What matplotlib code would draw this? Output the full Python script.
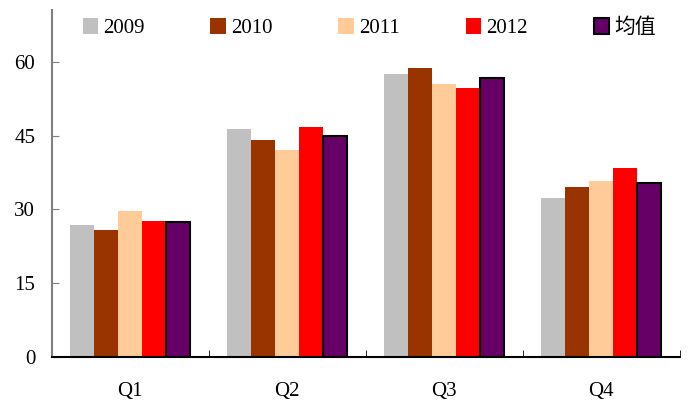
import numpy as np
import matplotlib.pyplot as plt

quarters = ['Q1', 'Q2', 'Q3', 'Q4']
years = ['2009', '2010', '2011', '2012', '均值']
v2009 = [26.8, 46.4, 57.6, 32.3]
v2010 = [25.8, 44.1, 58.8, 34.6]
v2011 = [29.7, 42.1, 55.5, 35.8]
v2012 = [27.7, 46.8, 54.7, 38.4]
vmean = [27.5, 44.9, 56.6, 35.3]
colors = ['#C0C0C0', '#993300', '#FFCC99', '#FF0000', '#660066']

plt.rcParams['font.family'] = ['Liberation Serif', 'Noto Sans CJK SC']
plt.rcParams['font.size'] = 15

fig = plt.figure(figsize=(6.91, 4.03), dpi=100)
ax = fig.add_axes([0.075, 0.114, 0.909, 0.861])

series = [v2009, v2010, v2011, v2012, vmean]
x = np.arange(len(quarters))
w = 0.153
for i, (vals, c, lab) in enumerate(zip(series, colors, years)):
    pos = x + (i - 2) * w
    if lab == '均值':
        ax.bar(pos, vals, w, color=c, edgecolor='black', linewidth=1.5, label=lab)
    else:
        ax.bar(pos, vals, w, color=c, label=lab)

ax.set_xlim(-0.5, 3.5)
ax.set_ylim(0, 70.5)
ax.set_yticks([0, 15, 30, 45, 60])
ax.set_xticks(x)
ax.set_xticklabels(quarters)
ax.set_xticks([-0.5, 0.5, 1.5, 2.5, 3.5], minor=True)
ax.tick_params(axis='x', which='major', length=0, pad=18)
ax.tick_params(axis='x', which='minor', direction='in', length=5, color='black')
ax.tick_params(axis='y', direction='in', length=5, color='#808080', pad=12)

ax.spines['top'].set_visible(False)
ax.spines['right'].set_visible(False)
ax.spines['left'].set_color('#808080')
ax.spines['left'].set_linewidth(1.5)
ax.spines['bottom'].set_color('black')
ax.spines['bottom'].set_linewidth(1.5)

ax.legend(loc='upper left', bbox_to_anchor=(0.019, 1.03), ncol=5, frameon=False,
          handlelength=0.75, handleheight=0.75, handletextpad=0.25, columnspacing=3.15,
          fontsize=15)

plt.savefig('out.png', dpi=100)
